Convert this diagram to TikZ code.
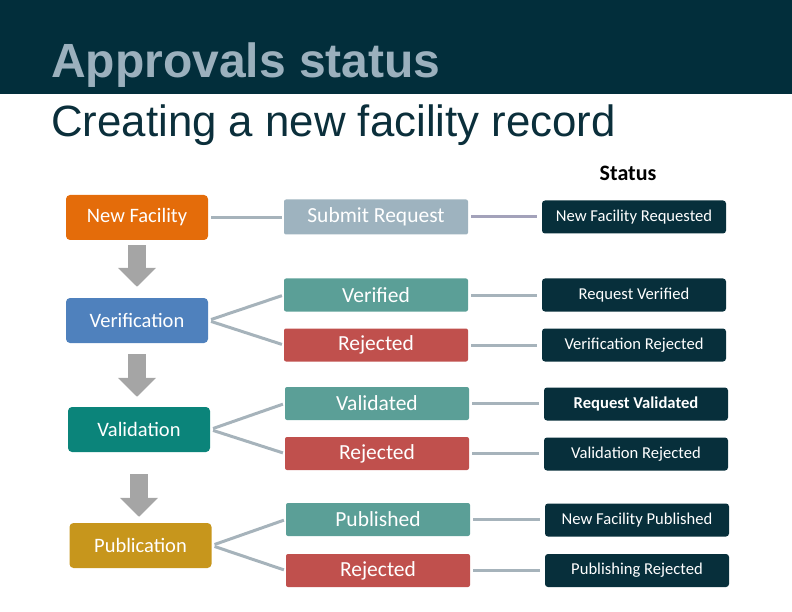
\documentclass[tikz,border=0pt]{standalone}
\usepackage{fontspec}
\setmainfont{Carlito}
\newfontfamily\headfont{Liberation Sans}
\usetikzlibrary{arrows.meta}
\definecolor{bandblue}{HTML}{022E3B}
\definecolor{titlegray}{HTML}{9BB0BD}
\definecolor{subdark}{HTML}{0B2F3B}
\definecolor{facorange}{HTML}{E46C0A}
\definecolor{verblue}{HTML}{4F81BD}
\definecolor{valteal}{HTML}{0B847A}
\definecolor{pubgold}{HTML}{C7961C}
\definecolor{subgray}{HTML}{9EB3BF}
\definecolor{okteal}{HTML}{5B9F97}
\definecolor{nored}{HTML}{C0504D}
\definecolor{statdark}{HTML}{072F3B}
\definecolor{arrowgray}{HTML}{A5A5A5}
\definecolor{linegray}{HTML}{A6B3BB}
\definecolor{linelav}{HTML}{A3A2BA}
\begin{document}
\begin{tikzpicture}[x=1pt,y=-1pt,
leftbox/.style={rounded corners=4pt,minimum width=142pt,minimum height=45pt,inner sep=0pt,text=white,font=\fontsize{20.5}{24}\selectfont},
midbox/.style={rounded corners=2pt,minimum width=184pt,minimum height=33pt,inner sep=0pt,text=white,font=\fontsize{21.5}{25}\selectfont},
statbox/.style={fill=statdark,rounded corners=3pt,minimum width=184pt,minimum height=33pt,inner sep=0pt,text=white,font=\fontsize{16.6}{20}\selectfont},
link/.style={draw=linegray,line width=3pt,shorten <=3pt,shorten >=2pt},
flow/.style={draw=arrowgray,line width=18pt,-{Triangle[width=37pt,length=19pt]}}]
\useasboundingbox (0,0) rectangle (792,612);
\fill[bandblue] (0,0) rectangle (792,94);
\node[anchor=base west,inner sep=0pt,text=titlegray,font=\headfont\bfseries\fontsize{48}{56}\selectfont,name=title] at (51,78){Approvals status};
\node[anchor=base west,inner sep=0pt,text=subdark,font=\headfont\fontsize{43.8}{50}\selectfont,name=subtitle] at (51,137){Creating a new facility record};
\node[font=\bfseries\fontsize{22}{26}\selectfont,name=status] at (628,173){Status};
% stages
\node[leftbox,fill=facorange,name=l1] at (137,217.5){New Facility};
\node[leftbox,fill=verblue,name=l2] at (137,320.5){Verification};
\node[leftbox,fill=valteal,name=l3] at (139,429.5){Validation};
\node[leftbox,fill=pubgold,name=l4] at (140.5,545.5){Publication};
\draw[flow,shorten <=5pt,shorten >=11pt] (l1.south)--(l1.south |- l2.north);
\draw[flow,shorten <=11pt,shorten >=10pt] (l2.south)--(l2.south |- l3.north);
\draw[flow,shorten <=22pt,shorten >=6pt] (l3.south)--(l3.south |- l4.north);
% outcomes
\node[midbox,fill=subgray,minimum height=35pt,name=m1] at (376,217){Submit Request};
\node[midbox,fill=okteal,name=m2] at (376,295){Verified};
\node[midbox,fill=nored,name=m3] at (376,345){Rejected};
\node[midbox,fill=okteal,name=m4] at (377,403.5){Validated};
\node[midbox,fill=nored,name=m5] at (377,453.5){Rejected};
\node[midbox,fill=okteal,name=m6] at (378,519.5){Published};
\node[midbox,fill=nored,name=m7] at (378,570.5){Rejected};
\draw[link] (l1.east)--(l1.east -| m1.west);
\draw[link] (l2.east)--(m2.west);
\draw[link] (l2.east)--(m3.west);
\draw[link] (l3.east)--(m4.west);
\draw[link] (l3.east)--(m5.west);
\draw[link] (l4.east)--(m6.west);
\draw[link] (l4.east)--(m7.west);
% status boxes
\node[statbox,name=r1] at (634,217){New Facility Requested};
\node[statbox,name=r2] at (634,295){Request Verified};
\node[statbox,name=r3] at (634,345){Verification Rejected};
\node[statbox,font=\bfseries\fontsize{16.6}{20}\selectfont,name=r4] at (636,404){Request Validated};
\node[statbox,name=r5] at (636,454){Validation Rejected};
\node[statbox,name=r6] at (637,520){New Facility Published};
\node[statbox,name=r7] at (637,570.5){Publishing Rejected};
\draw[link,draw=linelav,shorten >=5pt] (m1.east)--(m1.east -| r1.west);
\draw[link,shorten >=5pt] (m2.east)--(m2.east -| r2.west);
\draw[link,shorten >=5pt] (m3.east)--(m3.east -| r3.west);
\draw[link,shorten >=5pt] (m4.east)--(m4.east -| r4.west);
\draw[link,shorten >=5pt] (m5.east)--(m5.east -| r5.west);
\draw[link,shorten >=5pt] (m6.east)--(m6.east -| r6.west);
\draw[link,shorten >=5pt] (m7.east)--(m7.east -| r7.west);
\end{tikzpicture}
\end{document}
